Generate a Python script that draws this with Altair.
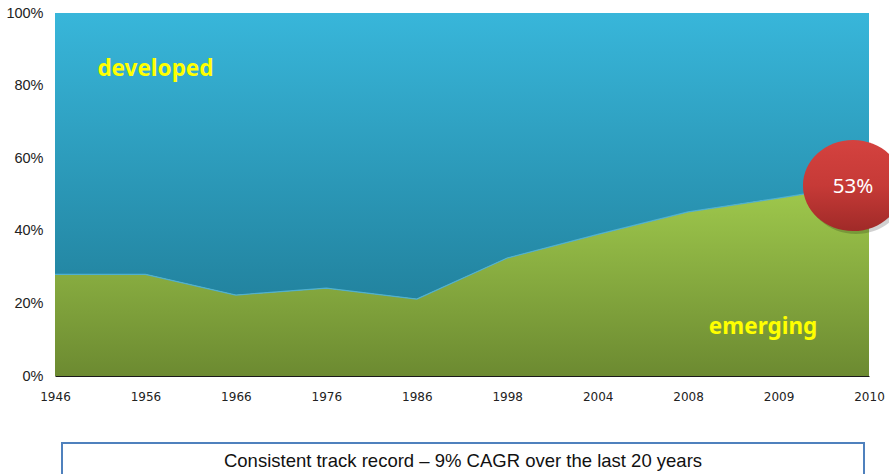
import altair as alt
import pandas as pd

# Share of world GDP, emerging vs developed economies (%)
years = ["1946", "1956", "1966", "1976", "1986", "1998", "2004", "2008", "2009", "2010"]
emerging = [28, 28, 22.3, 24.2, 21.2, 32.5, 39, 45.2, 49, 53]
developed = [100 - v for v in emerging]

callout_value = 53
footer_text = "Consistent track record \u2013 9% CAGR over the last 20 years"

df = pd.DataFrame({"year": years, "emerging": emerging, "developed": developed, "top": [100] * len(years)})

x_scale = alt.Scale(type="point", padding=0)
y_scale = alt.Scale(domain=[0, 100], nice=False)

x_enc = alt.X("year:O", sort=years, scale=x_scale, axis=alt.Axis(title=None, labelAngle=0))
y_enc = alt.Y(
    "emerging:Q", scale=y_scale,
    axis=alt.Axis(title=None, values=[0, 20, 40, 60, 80, 100], labelExpr="datum.value + '%'"),
)

base = alt.Chart(df)

developed_area = base.mark_area(
    fill=alt.Gradient(
        gradient="linear",
        stops=[alt.GradientStop(color="#38b6da", offset=0), alt.GradientStop(color="#22839f", offset=1)],
        x1=0, x2=0, y1=0, y2=1,
    ),
    interpolate="linear",
).encode(x=x_enc, y=y_enc, y2="top:Q")

emerging_area = base.mark_area(
    fill=alt.Gradient(
        gradient="linear",
        stops=[alt.GradientStop(color="#a0ca4d", offset=0), alt.GradientStop(color="#6c8a31", offset=1)],
        x1=0, x2=0, y1=0, y2=1,
    ),
    interpolate="linear",
).encode(x=x_enc, y=y_enc, y2=alt.datum(0))

boundary = base.mark_line(stroke="#4fb0cf", strokeWidth=1.2, interpolate="linear").encode(x=x_enc, y=y_enc)

# Region labels
labels_df = pd.DataFrame({
    "year": ["1956", "2009"],
    "pct": [82.6, 11.6],
    "text": ["developed", "emerging"],
})
label_style = dict(font="Noto Sans", fontWeight="bold", fontSize=22.5, color="#ffff00", baseline="alphabetic")
dev_label = alt.Chart(labels_df.iloc[[0]]).mark_text(dx=10, **label_style).encode(
    x=alt.X("year:O", sort=years, scale=x_scale),
    y=alt.Y("pct:Q", scale=y_scale), text="text:N",
)
emg_label = alt.Chart(labels_df.iloc[[1]]).mark_text(dx=-15.5, **label_style).encode(
    x=alt.X("year:O", sort=years, scale=x_scale),
    y=alt.Y("pct:Q", scale=y_scale), text="text:N",
)

# Callout bubble on the latest emerging share
callout_df = pd.DataFrame({"year": ["2010"], "pct": [callout_value], "text": [f"{callout_value}%"]})
ellipse = "M -1.1 0 A 1.1 1 0 1 1 1.1 0 A 1.1 1 0 1 1 -1.1 0 Z"
bubble_enc = dict(
    x=alt.X("year:O", sort=years, scale=x_scale),
    y=alt.Y("pct:Q", scale=y_scale),
)
bubble_shadow = alt.Chart(callout_df).mark_point(
    shape=ellipse, size=8281, filled=True, fill="#000000", opacity=0.18, xOffset=-13, yOffset=5,
).encode(**bubble_enc)
bubble = alt.Chart(callout_df).mark_point(
    shape=ellipse, size=8281, filled=True, opacity=1, xOffset=-16, yOffset=2,
    fill=alt.Gradient(
        gradient="linear",
        stops=[
            alt.GradientStop(color="#d4423f", offset=0),
            alt.GradientStop(color="#c63a37", offset=0.5),
            alt.GradientStop(color="#a02a28", offset=1),
        ],
        x1=0, x2=0, y1=0, y2=1,
    ),
).encode(**bubble_enc)
bubble_text = alt.Chart(callout_df).mark_text(
    font="Noto Sans", fontSize=20.5, color="#ffffff", dx=-16, dy=3, baseline="middle", align="center",
).encode(text="text:N", **bubble_enc)

# Footer box with caption
footer_box = alt.Chart(pd.DataFrame({"k": [0]})).mark_rect(
    fill="#ffffff", stroke="#4f81bd", strokeWidth=2,
).encode(x=alt.value(7), x2=alt.value(809), y=alt.value(430), y2=alt.value(475))
footer_label = alt.Chart(pd.DataFrame({"text": [footer_text]})).mark_text(
    font="Liberation Sans", fontSize=18.5, color="#111111", baseline="alphabetic", align="center",
).encode(x=alt.value(408), y=alt.value(453.7), text="text:N")

chart = alt.layer(
    developed_area, emerging_area, boundary, dev_label, emg_label,
    bubble_shadow, bubble, bubble_text, footer_box, footer_label,
).properties(
    width=814, height=363,
    padding={"left": 55, "top": 13, "right": 20, "bottom": 98},
    autosize=alt.AutoSizeParams(type="none"),
    background="#ffffff",
).configure_view(
    stroke=None
).configure_axis(
    grid=False, ticks=False, title=None,
).configure_axisX(
    domain=True, domainColor="#1a1a1a", domainWidth=1.2,
    labelFont="DejaVu Sans", labelFontSize=12, labelColor="#222222", labelPadding=15,
).configure_axisY(
    domain=False, labelFont="Liberation Sans", labelFontSize=14.5, labelColor="#222222", labelPadding=12,
)

chart.save("out.html", embed_options={"renderer": "svg", "actions": False})
